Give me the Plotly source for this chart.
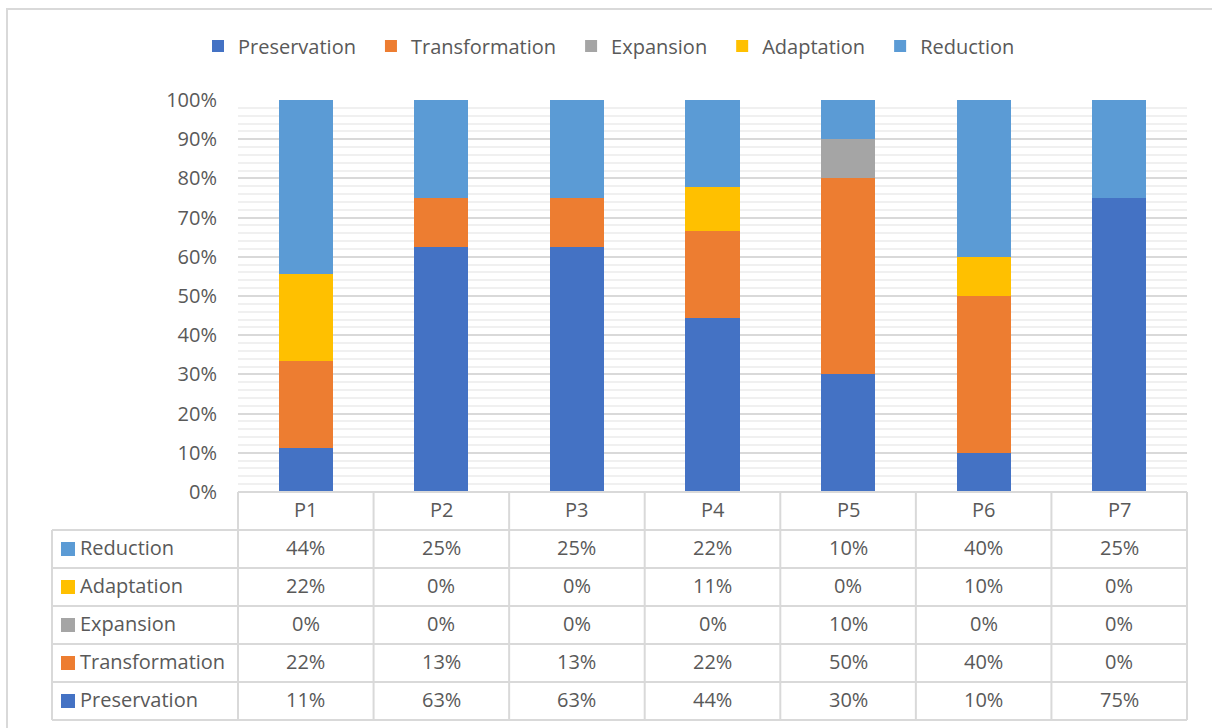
import math
import plotly.graph_objects as go

# ---------------- data ----------------
categories = ["P1", "P2", "P3", "P4", "P5", "P6", "P7"]
preservation = [11.1, 62.5, 62.5, 44.4, 30.0, 10.0, 75.0]
transformation = [22.2, 12.5, 12.5, 22.2, 50.0, 40.0, 0.0]
expansion = [0.0, 0.0, 0.0, 0.0, 10.0, 0.0, 0.0]
adaptation = [22.2, 0.0, 0.0, 11.1, 0.0, 10.0, 0.0]
reduction = [44.4, 25.0, 25.0, 22.2, 10.0, 40.0, 25.0]
y_ticks = [0, 10, 20, 30, 40, 50, 60, 70, 80, 90, 100]
y_tick_labels = [f"{t}%" for t in y_ticks]

series = [
    ("Preservation", preservation, "#4472C4"),
    ("Transformation", transformation, "#ED7D31"),
    ("Expansion", expansion, "#A5A5A5"),
    ("Adaptation", adaptation, "#FFC000"),
    ("Reduction", reduction, "#5B9BD5"),
]

# ---------------- layout constants (pixels) ----------------
W, H = 1212, 728
PL, PR, PT, PB = 238, 1187, 100, 492
TXT = "#595959"
GRID = "#d9d9d9"
FONT = "Open Sans"
FS = 20


def px_x(px):
    return (px - PL) / (PR - PL)


def px_y(py):
    return (PB - py) / (PB - PT)


fig = go.Figure()
for name, vals, color in series:
    fig.add_trace(go.Bar(
        x=categories, y=vals, name=name + "\u2002", width=0.4,
        marker=dict(color=color, line=dict(width=0)),
    ))

shapes = []
# outer chart border
shapes.append(dict(type="rect", xref="paper", yref="paper",
                   x0=px_x(7), x1=px_x(W + 10), y0=px_y(9), y1=px_y(H + 10),
                   line=dict(color=GRID, width=2), fillcolor="rgba(0,0,0,0)", layer="below"))

# table geometry
n = len(categories)
col_w = (PR - PL) / n
row_tops = [530, 568, 606, 644, 682]
row_h = 38
table_left = 52
table_bottom = 720

# horizontal lines
shapes.append(dict(type="line", xref="paper", yref="paper",
                   x0=px_x(PL), x1=px_x(PR), y0=px_y(PB), y1=px_y(PB),
                   line=dict(color=GRID, width=2)))
for yy in row_tops + [table_bottom]:
    shapes.append(dict(type="line", xref="paper", yref="paper",
                       x0=px_x(table_left), x1=px_x(PR), y0=px_y(yy), y1=px_y(yy),
                       line=dict(color=GRID, width=2)))
# vertical lines
shapes.append(dict(type="line", xref="paper", yref="paper",
                   x0=px_x(table_left), x1=px_x(table_left), y0=px_y(530), y1=px_y(table_bottom),
                   line=dict(color=GRID, width=2)))
for i in range(n + 1):
    xx = PL + i * col_w
    shapes.append(dict(type="line", xref="paper", yref="paper",
                       x0=px_x(xx), x1=px_x(xx), y0=px_y(PB), y1=px_y(table_bottom),
                       line=dict(color=GRID, width=2)))

annotations = []
TEXT_DY = -1.5
# header row
for i, c in enumerate(categories):
    annotations.append(dict(xref="paper", yref="paper", x=px_x(PL + (i + 0.5) * col_w),
                            y=px_y(PB + 19 + TEXT_DY), text=c, showarrow=False,
                            xanchor="center", yanchor="middle",
                            font=dict(family=FONT, size=FS, color=TXT)))

# data rows (reverse order: Reduction on top)
for r, (name, vals, color) in enumerate(reversed(series)):
    top = row_tops[r]
    cy = top + row_h / 2
    shapes.append(dict(type="rect", xref="paper", yref="paper",
                       x0=px_x(61), x1=px_x(75), y0=px_y(cy - 7), y1=px_y(cy + 7),
                       line=dict(width=0), fillcolor=color))
    annotations.append(dict(xref="paper", yref="paper", x=px_x(78), y=px_y(cy + TEXT_DY),
                            text=name, showarrow=False, xanchor="left", yanchor="middle",
                            font=dict(family=FONT, size=FS, color=TXT)))
    for i, v in enumerate(vals):
        annotations.append(dict(xref="paper", yref="paper", x=px_x(PL + (i + 0.5) * col_w),
                                y=px_y(cy + TEXT_DY), text=f"{math.floor(v + 0.5)}%",
                                showarrow=False, xanchor="center", yanchor="middle",
                                font=dict(family=FONT, size=FS, color=TXT)))

fig.update_layout(
    width=W, height=H,
    margin=dict(l=PL, r=W - PR, t=PT, b=H - PB),
    barmode="stack", barnorm="percent",
    paper_bgcolor="white", plot_bgcolor="white",
    font=dict(family=FONT, size=FS, color=TXT),
    showlegend=True,
    legend=dict(orientation="h", x=px_x(614), xanchor="center", y=px_y(46), yanchor="middle",
                font=dict(family=FONT, size=FS, color=TXT), traceorder="normal",
                itemclick=False, bgcolor="rgba(0,0,0,0)"),
    xaxis=dict(range=[-0.5, n - 0.5], showticklabels=False, showgrid=False,
               zeroline=False, showline=False, ticks=""),
    yaxis=dict(range=[0, 100], tickmode="array", tickvals=y_ticks, ticktext=y_tick_labels,
               showgrid=True, gridcolor=GRID, gridwidth=1.5, zeroline=False, showline=False,
               ticks="", ticklabelstandoff=20,
               tickfont=dict(family=FONT, size=FS, color=TXT),
               minor=dict(dtick=2, showgrid=True, gridcolor="#f0f0f0", gridwidth=1.5)),
    shapes=shapes,
    annotations=annotations,
)

fig.write_html("out.html")
